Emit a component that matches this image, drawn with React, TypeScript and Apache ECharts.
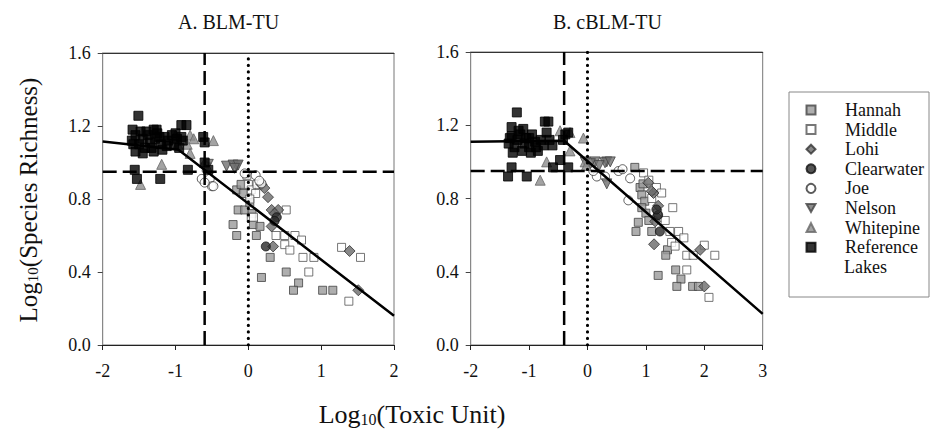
import { useEffect, useRef } from "react";
import * as echarts from "echarts";

const FONT = "'Liberation Serif', 'Times New Roman', serif";

// ---------- Panel A (BLM-TU) ----------
const hannahA = [[-0.16,0.85],[-0.14,0.74],[-0.05,0.74],[-0.21,0.66],[-0.16,0.60],[0.07,0.66],[0.16,0.65],[0.11,0.60],[0.30,0.48],[0.18,0.37],[0.52,0.40],[0.69,0.34],[0.62,0.30],[1.02,0.30],[1.16,0.30],[-0.07,0.83],[0.02,0.78],[0.05,0.72],[-0.10,0.88]];
const middleA = [[-0.02,0.93],[0.0,0.88],[0.04,0.85],[0.10,0.83],[0.02,0.80],[0.04,0.70],[0.07,0.70],[0.52,0.74],[0.38,0.60],[0.50,0.60],[0.64,0.60],[0.73,0.575],[0.50,0.55],[0.57,0.52],[0.75,0.48],[0.90,0.48],[0.83,0.40],[1.28,0.535],[1.54,0.48],[1.38,0.24],[0.12,0.88]];
const lohiA = [[0.18,0.88],[0.27,0.81],[0.32,0.74],[0.41,0.74],[0.34,0.54],[0.32,0.65],[1.39,0.515],[1.51,0.30],[0.22,0.86],[0.36,0.72]];
const clearwaterA = [[0.24,0.54],[0.39,0.70],[0.36,0.68]];
const joeA = [[-0.64,0.91],[-0.53,0.91],[-0.50,0.87],[-0.60,0.89],[-0.48,0.87],[-0.05,0.94],[0.18,0.886],[0.10,0.93],[0.15,0.90]];
const nelsonA = [[-0.30,0.98],[-0.16,0.98],[-0.21,0.986],[-0.14,0.986],[-0.19,0.968],[-0.55,0.99],[-0.58,0.97]];
const whitepineA = [[-1.19,0.99],[-1.48,0.88],[-1.00,1.15],[-0.80,1.15],[-0.97,1.10],[-0.84,1.10],[-0.48,1.12],[-0.80,1.05],[-0.60,1.00],[-0.75,1.13],[-0.57,0.98]];
const referenceA = [[-1.51,1.256],[-1.59,1.18],[-0.92,1.205],[-0.85,1.205],[-1.26,1.18],[-0.62,1.14],[-0.60,1.11],[-1.56,0.96],[-1.53,0.91],[-1.21,0.91],[-0.83,0.96],[-0.60,1.00],[-0.55,0.96],
  [-1.60,1.12],[-1.55,1.15],[-1.50,1.10],[-1.45,1.13],[-1.42,1.08],[-1.38,1.15],[-1.35,1.11],[-1.30,1.06],[-1.28,1.13],[-1.25,1.16],[-1.20,1.10],[-1.18,1.07],[-1.15,1.14],[-1.10,1.12],[-1.05,1.15],[-1.02,1.10],[-0.98,1.13],[-0.95,1.08],[-0.90,1.12],[-1.55,1.06],[-1.48,1.17],[-1.40,1.17],[-1.33,1.08],[-1.22,1.14],[-1.12,1.09],[-1.00,1.16],[-0.92,1.14],[-1.58,1.10],[-1.45,1.05],[-1.30,1.18]];
const fitA = [[-2,1.115],[-0.96,1.07],[2,0.16]];
const cutXA = -0.6;

// ---------- Panel B (cBLM-TU) ----------
const hannahB = [[0.81,0.97],[0.90,0.86],[0.93,0.82],[0.98,0.785],[0.93,0.75],[0.87,0.67],[0.83,0.62],[1.10,0.62],[1.37,0.52],[1.34,0.49],[1.51,0.41],[1.60,0.36],[1.21,0.38],[1.53,0.32],[1.80,0.32],[1.90,0.32],[1.00,0.72],[1.05,0.68],[0.95,0.88]];
const middleB = [[0.96,0.94],[1.18,0.86],[1.27,0.83],[1.46,0.75],[1.33,0.68],[1.41,0.62],[1.56,0.62],[1.65,0.585],[1.44,0.56],[1.50,0.54],[1.70,0.49],[1.81,0.49],[2.00,0.545],[2.18,0.49],[1.70,0.41],[2.08,0.26],[1.05,0.90],[1.10,0.80],[1.20,0.72]];
const lohiB = [[1.04,0.886],[1.13,0.83],[1.21,0.76],[1.18,0.70],[1.16,0.675],[1.14,0.55],[1.93,0.52],[2.00,0.32],[1.10,0.84]];
const clearwaterB = [[1.21,0.71],[1.24,0.62],[1.18,0.74]];
const joeB = [[0.16,0.92],[0.30,0.92],[0.53,0.95],[0.73,0.91],[0.70,0.79],[0.10,0.95],[0.60,0.96]];
const nelsonB = [[-0.04,1.00],[0.13,1.00],[0.33,1.00],[0.30,0.995],[0.39,1.00],[0.33,0.88],[0.05,0.99],[0.20,0.98]];
const whitepineB = [[-0.47,1.17],[-0.30,1.16],[-0.07,1.13],[-0.30,1.06],[-0.70,1.00],[-0.81,0.90],[-0.04,1.00],[-0.02,0.98]];
const referenceB = [[-1.21,1.27],[-1.30,1.19],[-0.73,1.22],[-0.67,1.22],[-0.70,1.16],[-0.33,1.16],[-1.30,0.97],[-1.36,0.92],[-1.04,0.92],[-0.59,0.97],[-0.47,1.01],[-0.33,0.97],
  [-1.35,1.10],[-1.30,1.14],[-1.25,1.08],[-1.20,1.12],[-1.15,1.15],[-1.12,1.06],[-1.08,1.10],[-1.05,1.13],[-1.00,1.08],[-0.95,1.15],[-0.90,1.11],[-0.85,1.06],[-0.80,1.12],[-0.75,1.09],[-0.65,1.12],[-0.60,1.09],[-1.28,1.05],[-1.18,1.17],[-1.10,1.18],[-1.00,1.13],[-0.88,1.08],[-0.42,1.12],[-0.38,1.15],[-1.33,1.13],[-0.97,1.05]];
const fitB = [[-2,1.11],[-0.4,1.115],[3,0.17]];
const cutXB = -0.4;

const cutY = 0.95;
const xRangeA = [-2, 2];
const xRangeB = [-2, 3];
const yRange = [0, 1.6];

const seriesNames = ["Hannah", "Middle", "Lohi", "Clearwater", "Joe", "Nelson", "Whitepine", "Reference Lakes"];

const styles: Record<string, any> = {
  Hannah: { symbol: "rect", symbolSize: 8, itemStyle: { color: "#9a9a9a", borderColor: "#444", borderWidth: 1 } },
  Middle: { symbol: "rect", symbolSize: 8, itemStyle: { color: "#ffffff", borderColor: "#555", borderWidth: 1 } },
  Lohi: { symbol: "diamond", symbolSize: 11, itemStyle: { color: "#6a6a6a", borderColor: "#333", borderWidth: 1 } },
  Clearwater: { symbol: "circle", symbolSize: 9, itemStyle: { color: "#2a2a2a", borderColor: "#111", borderWidth: 1 } },
  Joe: { symbol: "circle", symbolSize: 9, itemStyle: { color: "#ffffff", borderColor: "#333", borderWidth: 1 } },
  Nelson: { symbol: "triangle", symbolSize: 10, symbolRotate: 180, itemStyle: { color: "#707070", borderColor: "#444", borderWidth: 1 } },
  Whitepine: { symbol: "triangle", symbolSize: 10, itemStyle: { color: "#8c8c8c", borderColor: "#666", borderWidth: 1 } },
  "Reference Lakes": { symbol: "rect", symbolSize: 9, itemStyle: { color: "#000000", borderColor: "#000", borderWidth: 1 } },
};

const dataA = [hannahA, middleA, lohiA, clearwaterA, joeA, nelsonA, whitepineA, referenceA];
const dataB = [hannahB, middleB, lohiB, clearwaterB, joeB, nelsonB, whitepineB, referenceB];

export default function App() {
  const ref = useRef<HTMLDivElement>(null);
  useEffect(() => {
    if (!ref.current) return;
    const chart = echarts.init(ref.current, null, { renderer: "svg" });

    const xAxis = (gridIndex: number, range: number[]) => ({
      type: "value", gridIndex, min: range[0], max: range[1], interval: 1,
      axisLine: { show: true, onZero: false, lineStyle: { color: "#222", width: 1 } },
      axisTick: { show: true, inside: false, length: 5, lineStyle: { color: "#222" } },
      axisLabel: { fontFamily: FONT, fontSize: 18, color: "#111", margin: 17 },
      splitLine: { show: false },
    });
    const xTop = (gridIndex: number, range: number[]) => ({
      type: "value", gridIndex, position: "top", min: range[0], max: range[1],
      axisLine: { show: true, onZero: false, lineStyle: { color: "#333", width: 1 } },
      axisTick: { show: false }, axisLabel: { show: false }, splitLine: { show: false },
    });
    const yAxis = (gridIndex: number) => ({
      type: "value", gridIndex, min: yRange[0], max: yRange[1], interval: 0.4,
      axisLine: { show: true, onZero: false, lineStyle: { color: "#888", width: 1 } },
      axisTick: { show: true, inside: false, length: 5, lineStyle: { color: "#444" } },
      axisLabel: { fontFamily: FONT, fontSize: 18, color: "#111", margin: 12, formatter: (v: number) => v.toFixed(1) },
      splitLine: { show: false },
    });

    const series: any[] = [];
    const addPanel = (data: number[][][], axisIdx: number, xr: number[], fit: number[][], cutX: number) => {
      seriesNames.forEach((name, i) => {
        series.push({
          type: "scatter", name, xAxisIndex: axisIdx * 2, yAxisIndex: axisIdx,
          data: data[i], ...styles[name], z: 2 + (i === 7 ? 1 : 0),
        });
      });
      const dashed = { color: "#000", width: 2.5, type: [14, 6] };
      series.push({
        type: "line", xAxisIndex: axisIdx * 2, yAxisIndex: axisIdx, data: [[xr[0], cutY], [xr[1], cutY]],
        symbol: "none", lineStyle: dashed, z: 4, silent: true,
      });
      series.push({
        type: "line", xAxisIndex: axisIdx * 2, yAxisIndex: axisIdx, data: [[cutX, yRange[0]], [cutX, yRange[1]]],
        symbol: "none", lineStyle: dashed, z: 4, silent: true,
      });
      series.push({
        type: "line", xAxisIndex: axisIdx * 2, yAxisIndex: axisIdx, data: [[0, yRange[0]], [0, yRange[1]]],
        symbol: "none", lineStyle: { color: "#000", width: 3.2, type: [0.1, 6.4], cap: "round" }, z: 4, silent: true,
      });
      series.push({
        type: "line", xAxisIndex: axisIdx * 2, yAxisIndex: axisIdx, data: fit,
        symbol: "none", lineStyle: { color: "#000", width: 2.5 }, z: 5, silent: true,
      });
    };
    addPanel(dataA, 0, xRangeA, fitA, cutXA);
    addPanel(dataB, 1, xRangeB, fitB, cutXB);

    const titleStyle = { fontFamily: FONT, fontSize: 20, fontWeight: "normal", color: "#111" };
    const legendData = seriesNames.map((name) =>
      name === "Nelson" ? { name, icon: "path://M0,0L10,0L5,9Z" } : { name }
    );

    chart.setOption({
      animation: false,
      backgroundColor: "#fff",
      title: [
        { text: "A. BLM-TU", left: 178, top: 12, padding: 0, textStyle: titleStyle },
        { text: "B. cBLM-TU", left: 553, top: 12, padding: 0, textStyle: titleStyle },
      ],
      grid: [
        { left: 102.7, top: 53, width: 291.3, height: 292, show: true, borderColor: "#777", borderWidth: 1 },
        { left: 470.7, top: 52, width: 292, height: 293, show: true, borderColor: "#777", borderWidth: 1 },
      ],
      xAxis: [xAxis(0, xRangeA), xTop(0, xRangeA), xAxis(1, xRangeB), xTop(1, xRangeB)],
      yAxis: [yAxis(0), yAxis(1)],
      legend: {
        data: legendData, orient: "vertical", left: 805.5, top: 100.2, padding: 0,
        itemWidth: 9, itemHeight: 9, itemGap: 0, selectedMode: false,
        formatter: (name: string) => (name === "Reference Lakes" ? "Reference" : name),
        textStyle: { fontFamily: FONT, fontSize: 18, color: "#111", lineHeight: 19.6, padding: [0, 0, 0, 24.5] },
      },
      graphic: [
        { type: "rect", shape: { x: 789, y: 92, width: 140, height: 205 }, style: { fill: "none", stroke: "#888", lineWidth: 1 }, silent: true },
        {
          type: "text", x: 844, y: 266.6,
          style: { text: "Lakes", align: "left", verticalAlign: "middle", textAlign: "left", textVerticalAlign: "middle", font: `18px ${FONT}`, fill: "#111" },
        },
        {
          type: "text", x: 412, y: 414,
          style: {
            text: "Log{s|10}(Toxic Unit)", align: "center", verticalAlign: "middle", textAlign: "center", textVerticalAlign: "middle",
            font: `26px ${FONT}`, fill: "#111",
            rich: { s: { fontSize: 16, lineHeight: 10, verticalAlign: "bottom", fontFamily: FONT, fill: "#111" } },
          },
        },
        {
          type: "text", x: 28, y: 200, rotation: Math.PI / 2,
          style: {
            text: "Log{s|10}(Species Richness)", align: "center", verticalAlign: "middle", textAlign: "center", textVerticalAlign: "middle",
            font: `25px ${FONT}`, fill: "#111",
            rich: { s: { fontSize: 15, lineHeight: 10, verticalAlign: "bottom", fontFamily: FONT, fill: "#111" } },
          },
        },
      ],
      series,
    });
    return () => chart.dispose();
  }, []);
  return <div ref={ref} style={{ position: "fixed", left: 0, top: 0, width: 930, height: 429 }} />;
}
